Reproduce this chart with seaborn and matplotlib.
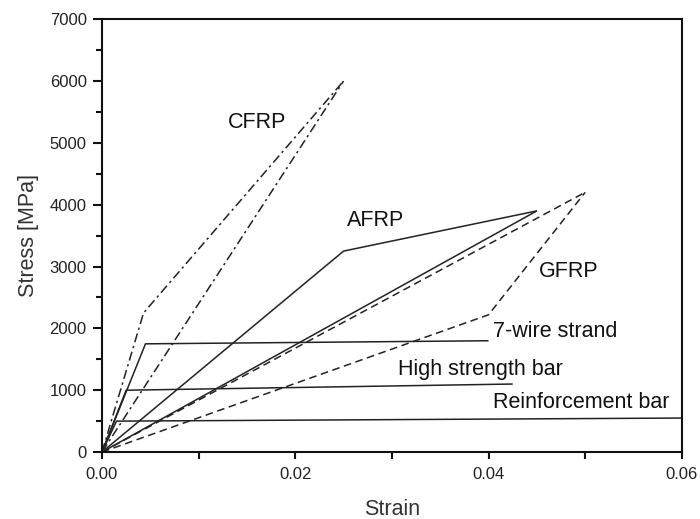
import matplotlib
matplotlib.use("Agg")
import matplotlib.pyplot as plt
import seaborn as sns
import pandas as pd
from matplotlib.ticker import MultipleLocator, FormatStrFormatter

# Data (strain, stress MPa) for each curve
cfrp_a_strain = [0.0, 0.0043, 0.025]
cfrp_a_stress = [0, 2250, 6000]
cfrp_b_strain = [0.0, 0.025]
cfrp_b_stress = [0, 6000]
afrp_a_strain = [0.0, 0.025, 0.045]
afrp_a_stress = [0, 3250, 3900]
afrp_b_strain = [0.0, 0.045]
afrp_b_stress = [0, 3900]
gfrp_a_strain = [0.0, 0.05]
gfrp_a_stress = [0, 4200]
gfrp_b_strain = [0.0, 0.040, 0.05]
gfrp_b_stress = [0, 2220, 4200]
strand_strain = [0.0, 0.0045, 0.040]
strand_stress = [0, 1750, 1800]
hsbar_strain = [0.0, 0.0025, 0.0425]
hsbar_stress = [0, 1000, 1100]
rebar_strain = [0.0, 0.0015, 0.060]
rebar_stress = [0, 500, 550]

curves = [
    ("CFRP a", cfrp_a_strain, cfrp_a_stress, "dashdot"),
    ("CFRP b", cfrp_b_strain, cfrp_b_stress, "dashdot"),
    ("AFRP a", afrp_a_strain, afrp_a_stress, "solid"),
    ("AFRP b", afrp_b_strain, afrp_b_stress, "solid"),
    ("GFRP a", gfrp_a_strain, gfrp_a_stress, "dashed"),
    ("GFRP b", gfrp_b_strain, gfrp_b_stress, "dashed"),
    ("7-wire strand", strand_strain, strand_stress, "solid"),
    ("High strength bar", hsbar_strain, hsbar_stress, "solid"),
    ("Reinforcement bar", rebar_strain, rebar_stress, "solid"),
]

labels = ["CFRP", "AFRP", "GFRP", "7-wire strand", "High strength bar", "Reinforcement bar"]
label_x = [0.0130, 0.0253, 0.0452, 0.0405, 0.0306, 0.0405]
label_y = [5335, 3750, 2926, 1956, 1342, 808]

sns.set_theme(style="white")
plt.rcParams['font.family'] = ['Liberation Sans', 'DejaVu Sans']

fig = plt.figure(figsize=(7.0, 5.19), dpi=100)
ax = fig.add_axes([0.1457, 0.129, 0.974 - 0.1457, 0.963 - 0.129])

dash_map = {"solid": (0, ()), "dashed": (0, (5, 3)), "dashdot": (0, (6, 2.5, 1.5, 2.5))}
for name, xs, ys, st in curves:
    df = pd.DataFrame({"strain": xs, "stress": ys})
    sns.lineplot(data=df, x="strain", y="stress", sort=False, estimator=None,
                 color="#222222", lw=1.1, linestyle=dash_map[st], ax=ax)

for t, x, y in zip(labels, label_x, label_y):
    ax.text(x, y, t, fontsize=15.5, color="#111111", ha="left", va="center")

ax.set_xlim(0, 0.06)
ax.set_ylim(0, 7000)
ax.xaxis.set_major_locator(MultipleLocator(0.02))
ax.xaxis.set_minor_locator(MultipleLocator(0.01))
ax.xaxis.set_major_formatter(FormatStrFormatter("%.2f"))
ax.yaxis.set_major_locator(MultipleLocator(1000))
ax.yaxis.set_minor_locator(MultipleLocator(500))

common = dict(direction="out", width=1.5, top=False, right=False, colors="#111111")
ax.tick_params(axis="y", which="major", length=6.5, labelsize=12, pad=4.5,
               labelcolor="#222222", left=True, **common)
ax.tick_params(axis="y", which="minor", length=4.5, left=True, **common)
ax.tick_params(axis="x", which="major", length=5, labelsize=12, pad=6,
               labelcolor="#222222", bottom=True, **common)
ax.tick_params(axis="x", which="minor", length=5, bottom=True, **common)
for s in ax.spines.values():
    s.set_linewidth(1.5)
    s.set_color("#111111")

ax.set_xlabel("Strain", fontsize=15.5, color="#333333", labelpad=12)
ax.set_ylabel("Stress [MPa]", fontsize=15.5, color="#333333", labelpad=7.5)

fig.savefig("out.png", dpi=100)
